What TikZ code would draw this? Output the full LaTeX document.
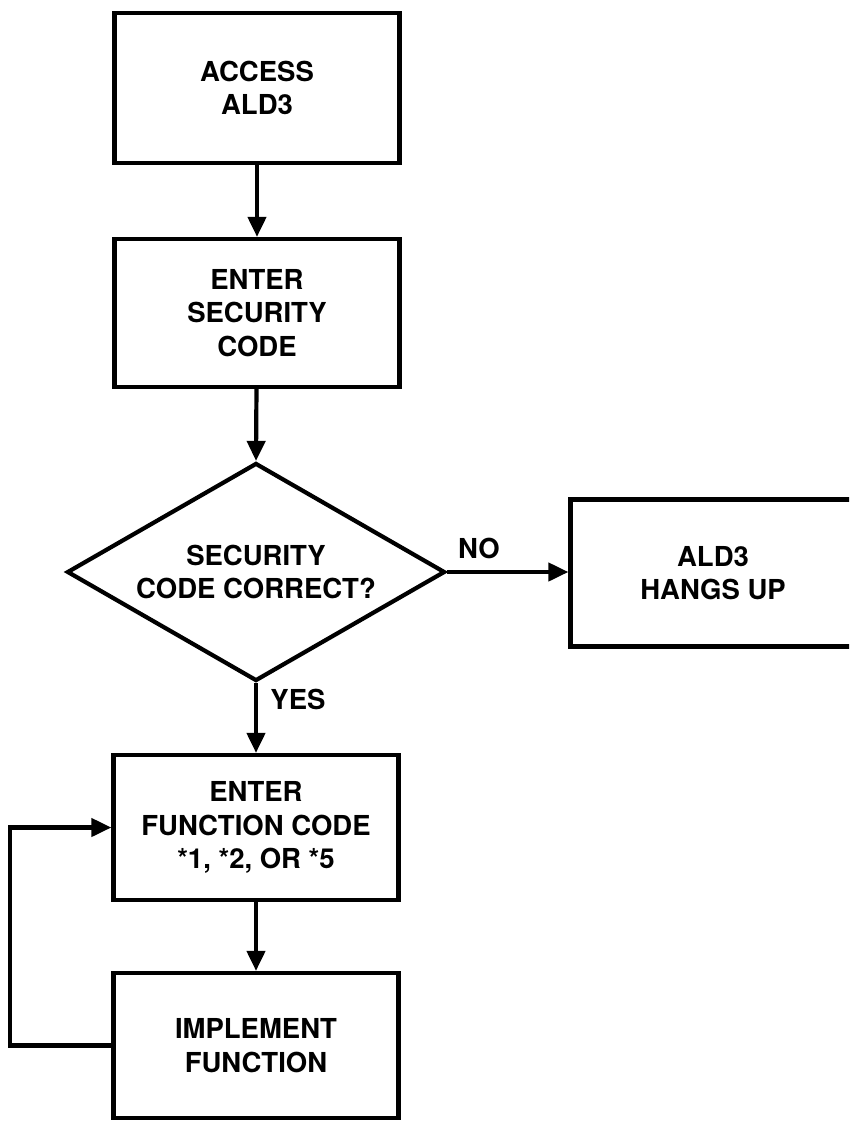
\documentclass[tikz,border=0pt]{standalone}
\usepackage{fontspec}
\setmainfont{TeX Gyre Heros}
\usetikzlibrary{arrows.meta,shapes.geometric}
\newcommand\flowfont{\fontsize{27.5}{33.5}\selectfont\bfseries}
\begin{document}
\begin{tikzpicture}[x=1pt,y=-1pt,
  box/.style={draw, line width=4.2pt, rectangle, align=center, minimum width=285pt, inner sep=0pt, font=\flowfont},
  decision/.style={draw, line width=4.2pt, diamond, aspect=1.73, align=center, minimum width=378pt, minimum height=218pt, inner sep=0pt, font=\flowfont},
  flow/.style={line width=4.2pt, -{Triangle[length=20pt,width=18pt]}},
  lbl/.style={font=\flowfont, inner sep=0pt}
]
\useasboundingbox (0,0) rectangle (849,1122);
\clip (0,0) rectangle (849,1122);

\node[box, minimum height=150pt] (access) at (257,88) {ACCESS\\ALD3};
\node[box, minimum height=148pt] (enter) at (257,313) {ENTER\\SECURITY\\CODE};
\node[decision] (check) at (256,572) {SECURITY\\CODE CORRECT?};
\node[box, minimum height=147pt] (hang) at (713,573) {ALD3\\HANGS UP};
\node[box, minimum height=145pt] (func) at (256,827.5) {ENTER\\FUNCTION CODE\\*1, *2, OR *5};
\node[box, minimum height=145pt] (impl) at (256,1045.5) {IMPLEMENT\\FUNCTION};

\node[lbl] (no) at (479,548.5) {NO};
\node[lbl] (yes) at (298,699) {YES};

\coordinate (loopb) at (10,1045.5);
\coordinate (loopt) at (10,827.5);

\draw[flow] (access) -- (enter);
\draw[flow] (enter) -- (check.north);
\draw[flow] (check.east) -- (check.east -| hang.west);
\draw[flow] (check.south) -- (func.north);
\draw[flow] (func) -- (impl);
\draw[flow] (impl.west) -- (loopb) -- (loopt) -- (func.west);
\end{tikzpicture}
\end{document}
